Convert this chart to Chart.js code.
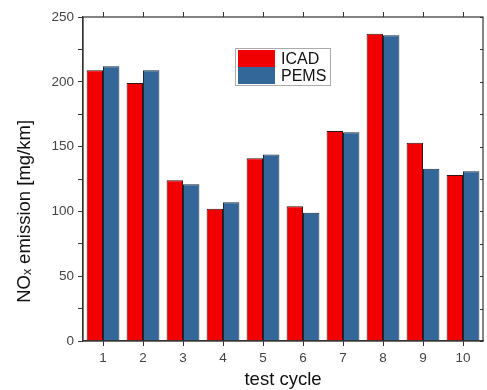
<!DOCTYPE html>
<html lang="en">
<head>
  <meta charset="UTF-8" />
  <title>NOx emission per test cycle</title>
  <script src="https://cdn.jsdelivr.net/npm/chart.js"></script>
  <style>
    html, body { margin: 0; padding: 0; background: #fff; }
    #wrap { width: 487px; height: 390px; }
  </style>
</head>
<body>
  <div id="wrap"><canvas id="noxChart" width="487" height="390"></canvas></div>

  <script>
    // datos
    const cycles = ['1', '2', '3', '4', '5', '6', '7', '8', '9', '10'];
    const icad = [209, 199, 124, 102, 141, 104, 162, 237, 153, 128];
    const pems = [212, 209, 121, 107, 144, 99, 161, 236, 133, 131];
    const yTicks = [0, 50, 100, 150, 200, 250];
    const yTitle = 'NOₓ emission [mg/km]';

    const FONT = "'Liberation Sans', Arial, 'DejaVu Sans', sans-serif";
    const AXIS = '#333';

    // marco: ticks arriba y a la derecha + borde del area
    const framePlugin = {
      id: 'frame',
      afterDraw(chart) {
        const { ctx, chartArea: a, scales } = chart;
        ctx.save();
        ctx.strokeStyle = AXIS;
        ctx.lineWidth = 1.2;
        ctx.strokeRect(a.left, a.top, a.right - a.left, a.bottom - a.top);
        ctx.lineWidth = 1;
        scales.x.ticks.forEach((t, i) => {
          const x = Math.round(scales.x.getPixelForTick(i)) + 0.5;
          ctx.beginPath();
          ctx.moveTo(x, a.top);
          ctx.lineTo(x, a.top - 5);
          ctx.stroke();
        });
        scales.y.ticks.forEach((t, i) => {
          const y = Math.round(scales.y.getPixelForTick(i)) + 0.5;
          ctx.beginPath();
          ctx.moveTo(a.right, y);
          ctx.lineTo(a.right - 3, y);
          ctx.stroke();
        });
        // titulo del eje y, algo por debajo del centro como en el original
        ctx.translate(25, a.top + (a.bottom - a.top) * 0.6);
        ctx.rotate(-Math.PI / 2);
        ctx.fillStyle = '#111';
        ctx.font = '18.5px ' + FONT;
        ctx.textAlign = 'center';
        ctx.textBaseline = 'middle';
        ctx.fillText(yTitle, 0, 0);
        ctx.restore();
      }
    };

    // leyenda con recuadro dentro del area
    const boxLegend = {
      id: 'boxLegend',
      afterDraw(chart) {
        const { ctx, chartArea: a } = chart;
        const x0 = a.left + 152, y0 = a.top + 31;
        const w = 95, rowH = 17;
        ctx.save();
        ctx.fillStyle = '#fff';
        ctx.fillRect(x0, y0, w, rowH * 2 + 3);
        ctx.strokeStyle = '#aaa';
        ctx.lineWidth = 1;
        ctx.strokeRect(x0 + 0.5, y0 + 0.5, w, rowH * 2 + 3);
        chart.data.datasets.forEach((ds, i) => {
          const y = y0 + 2 + i * rowH;
          ctx.fillStyle = ds.backgroundColor;
          ctx.fillRect(x0 + 3, y, 37, rowH);
          ctx.fillStyle = '#111';
          ctx.font = '16px ' + FONT;
          ctx.textBaseline = 'middle';
          ctx.fillText(ds.label, x0 + 46, y + rowH / 2 + 1);
        });
        ctx.restore();
      }
    };

    new Chart(document.getElementById('noxChart'), {
      type: 'bar',
      data: {
        labels: cycles,
        datasets: [
          { label: 'ICAD', data: icad, backgroundColor: '#f00000', borderColor: '#3a1010', borderWidth: 1 },
          { label: 'PEMS', data: pems, backgroundColor: '#336699', borderColor: '#1c2a3a', borderWidth: 1 }
        ]
      },
      options: {
        responsive: false,
        animation: false,
        layout: { padding: { top: 17, right: 4, left: 0, bottom: 0 } },
        datasets: { bar: { categoryPercentage: 0.82, barPercentage: 1 } },
        plugins: { legend: { display: false }, tooltip: { enabled: false } },
        scales: {
          x: {
            offset: true,
            grid: { offset: false, drawOnChartArea: false, tickLength: 5, color: AXIS },
            border: { color: AXIS, width: 1.2 },
            ticks: { color: '#444', font: { family: FONT, size: 13.5 }, padding: 4, maxRotation: 0 },
            title: { display: true, text: 'test cycle', color: '#111', font: { family: FONT, size: 18.5, lineHeight: 1 }, padding: { top: 0, bottom: 1 } },
            afterFit(s) { s.height = 49; }
          },
          y: {
            min: 0,
            max: 250,
            afterBuildTicks(s) {
              // ticks mayores con menores intermedios
              const out = [];
              yTicks.forEach((v, i) => {
                out.push({ value: v });
                if (i < yTicks.length - 1) out.push({ value: (v + yTicks[i + 1]) / 2 });
              });
              s.ticks = out;
            },
            grid: { drawOnChartArea: false, tickLength: 5, color: AXIS },
            border: { color: AXIS, width: 1.2 },
            ticks: {
              color: '#444',
              font: { family: FONT, size: 13.5 },
              padding: 4,
              callback: v => yTicks.includes(v) ? v : ''
            },
            title: { display: false },
            afterFit(s) { s.width = 83; }
          }
        }
      },
      plugins: [framePlugin, boxLegend]
    });
  </script>
</body>
</html>
